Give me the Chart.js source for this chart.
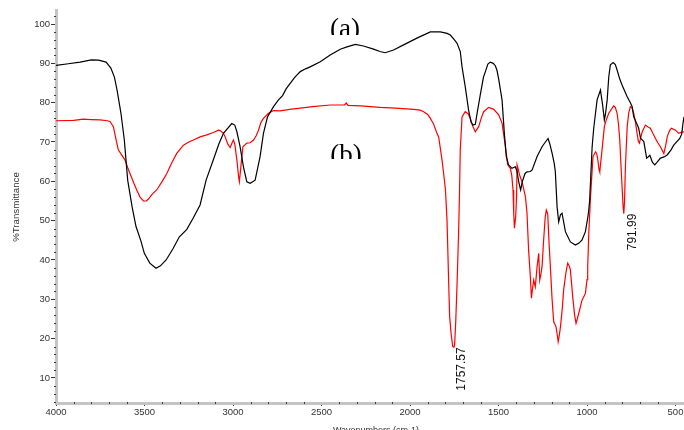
<!DOCTYPE html>
<html>
<head>
<meta charset="utf-8">
<script src="https://cdn.jsdelivr.net/npm/chart.js@4.4.1/dist/chart.umd.min.js"></script>
<style>
html,body{margin:0;padding:0;background:#fff;}
#wrap{width:684px;height:430px;}
</style>
</head>
<body>
<div id="wrap"><canvas id="c" width="684" height="430"></canvas></div>
<script>
// ---- data (wavenumber cm-1, %T) ----
const waveA = [4000,3930,3864,3800,3760,3717,3690,3670,3655,3633,3614,3595,3570,3548,3520,3501,3470,3435,3410,3378,3340,3303,3261,3227,3186,3152,3111,3080,3054,3007,2990,2978,2960,2941,2922,2903,2875,2847,2828,2805,2771,2743,2720,2700,2677,2650,2620,2590,2564,2507,2451,2394,2356,2309,2263,2206,2170,2140,2093,2036,1961,1885,1829,1790,1772,1750,1734,1716,1706,1688,1669,1655,1644,1631,1621,1603,1585,1574,1560,1546,1530,1518,1509,1499,1480,1467,1456,1443,1424,1405,1395,1386,1375,1365,1350,1339,1320,1310,1282,1254,1235,1220,1210,1197,1185,1179,1169,1160,1150,1141,1122,1094,1066,1045,1028,1009,995,990,985,978,971,962,943,924,912,902,896,886,877,868,852,840,830,815,802,773,755,745,736,720,708,698,679,663,655,645,630,617,605,585,565,547,525,510,476,465,457,452];
const transA = [89.5,89.9,90.3,90.9,90.8,90.3,88.8,86.5,83.2,77.3,70.5,60.3,53.5,48.5,44.8,41.7,39.2,37.9,38.5,40.0,42.8,45.9,47.8,50.5,54.0,60.3,65.5,69.5,72.2,74.7,74.3,72.6,68.8,63.7,59.9,59.5,60.3,66.3,72.2,76.4,79.0,80.7,81.8,83.5,84.9,86.5,87.9,88.6,89.1,90.4,92.1,93.6,94.2,94.8,94.4,93.6,93.0,92.7,93.4,94.7,96.4,98.0,98.0,97.6,97.2,96.0,95.1,93.0,89.1,84.1,78.1,75.0,74.3,74.5,77.3,82.0,86.5,87.9,89.8,90.3,90.0,89.4,88.3,86.0,80.7,72.2,66.3,64.2,63.3,63.7,62.5,59.9,57.8,60.0,62.0,62.4,62.5,62.9,66.3,68.8,70.0,70.9,69.5,67.1,64.5,62.5,53.5,49.7,51.5,51.9,47.2,44.6,43.8,44.3,45.1,47.2,51.0,52.7,55.2,62.0,68.8,73.5,80.7,83.2,79.5,75.6,77.0,80.7,86.6,89.6,90.2,89.7,88.3,86.0,84.5,81.5,80.0,79.0,76.4,74.8,73.5,71.0,70.1,65.9,66.2,66.6,64.8,64.2,64.8,65.9,66.2,66.7,68.0,69.2,70.9,72.0,75.0,76.4];

const waveB = [4000,3900,3846,3800,3751,3710,3695,3676,3660,3648,3630,3610,3595,3582,3560,3544,3525,3506,3490,3478,3455,3431,3400,3374,3345,3318,3280,3250,3224,3186,3148,3111,3082,3073,3054,3044,3030,3016,3005,2998,2990,2978,2968,2964,2955,2944,2922,2903,2884,2870,2856,2842,2828,2800,2770,2734,2680,2620,2550,2451,2370,2360,2350,2280,2168,2080,1980,1942,1923,1900,1885,1866,1848,1838,1819,1810,1800,1791,1786,1782,1776,1768,1759,1752,1748,1742,1734,1725,1720,1716,1706,1688,1672,1659,1645,1631,1612,1598,1584,1556,1527,1499,1480,1461,1448,1433,1425,1418,1414,1410,1403,1398,1395,1388,1381,1367,1348,1339,1330,1320,1314,1307,1301,1292,1282,1273,1267,1260,1254,1245,1236,1230,1222,1214,1207,1197,1188,1175,1168,1163,1156,1150,1140,1132,1120,1109,1100,1094,1079,1070,1062,1055,1047,1028,1009,1000,996,990,981,972,966,952,945,939,932,928,922,915,902,890,877,860,849,840,830,822,815,808,802,796,792,788,783,773,764,755,745,736,726,717,710,704,697,688,670,655,642,628,613,600,585,566,556,547,535,524,510,500,482,465,452];
const transB = [75.4,75.5,75.8,75.7,75.6,75.4,75.2,73.9,70.5,68.0,66.8,65.4,63.5,62.0,59.5,57.8,56.0,55.0,55.0,55.5,56.8,57.8,60.0,62.0,64.8,67.1,69.2,70.0,70.5,71.3,71.8,72.4,73.0,72.9,72.2,71.3,69.5,68.6,69.8,70.5,69.5,65.4,61.0,59.9,64.0,68.8,69.7,69.8,70.5,71.5,73.0,75.0,76.0,77.3,78.0,77.9,78.3,78.6,79.0,79.4,79.4,79.9,79.3,79.2,78.8,78.6,78.3,78.1,77.7,77.0,76.0,74.5,72.2,71.3,65.4,62.0,58.0,50.2,42.0,34.9,25.6,21.4,18.0,17.8,18.5,23.9,34.1,47.6,57.8,68.0,76.4,77.7,77.2,76.0,74.0,72.6,73.9,76.0,77.7,78.8,78.3,76.9,74.8,68.8,64.2,63.3,61.5,57.8,51.9,48.1,51.0,56.0,64.2,63.0,61.6,59.9,56.1,51.9,42.5,35.7,30.3,33.0,34.9,33.2,38.3,41.7,34.9,36.5,38.3,45.1,51.0,52.7,51.7,44.0,38.3,29.8,24.3,23.0,21.0,19.2,21.0,23.0,27.5,32.4,36.5,39.2,38.5,37.5,29.8,26.0,23.9,25.0,26.4,29.8,31.5,35.0,38.3,46.8,55.3,62.0,66.3,67.5,67.0,65.5,63.0,62.4,65.0,68.0,73.9,75.8,77.3,78.5,79.2,78.8,77.3,74.5,70.5,64.0,58.6,53.5,51.8,55.0,63.7,73.9,77.5,79.0,78.6,77.3,75.0,72.2,70.2,69.7,71.0,72.6,74.3,73.8,73.5,72.2,70.9,69.8,68.8,67.1,69.0,71.3,72.8,73.5,73.2,73.0,72.2,72.5,72.6];

const xTickLabels = [4000,3500,3000,2500,2000,1500,1000,500];
const yTickLabels = [10,20,30,40,50,60,70,80,90,100];
const peakLabels = [{wn:1757.57, t:17.8, text:'1757.57'}, {wn:791.99, t:51.8, text:'791.99'}];
const seriesNames = ['(a)','(b)'];

// ---- annotation plugin ----
const annot = {
  id:'annot',
  afterDraw(chart){
    const {ctx, scales:{x, y}, chartArea:ca} = chart;
    ctx.save();
    // minor tick marks on the axis lines
    ctx.fillStyle = '#3a3a3a';
    y.ticks.forEach(t => {
      if (t.value % 10 !== 0) {
        const py = Math.round(y.getPixelForValue(t.value));
        ctx.fillRect(ca.left - 2, py, 2, 1);
      }
    });
    x.ticks.forEach(t => {
      if (t.value % 500 !== 0) {
        const px = Math.round(x.getPixelForValue(t.value));
        ctx.fillRect(px, ca.bottom - 1, 1, 2);
      }
    });
    // peak labels (rotated)
    ctx.fillStyle = '#111';
    ctx.font = '12px "Liberation Sans", Arial, sans-serif';
    peakLabels.forEach(p => {
      const px = x.getPixelForValue(p.wn) + 8.5;
      const py = y.getPixelForValue(p.t);
      ctx.save();
      ctx.translate(px, py);
      ctx.rotate(-Math.PI/2);
      ctx.textAlign = 'right';
      ctx.textBaseline = 'middle';
      ctx.fillText(p.text, 0, 0);
      ctx.restore();
    });
    // series labels (a), (b)
    ctx.font = '27px "Liberation Serif", "Times New Roman", serif';
    ctx.textAlign = 'center';
    ctx.textBaseline = 'alphabetic';
    ctx.fillStyle = '#000';
    const lab = [{x:345, y:37, clip:35}, {x:346, y:163, clip:159}];
    seriesNames.forEach((s,i) => {
      ctx.save();
      ctx.beginPath();
      ctx.rect(0, 0, 684, lab[i].clip);
      ctx.clip();
      ctx.fillText(s, lab[i].x, lab[i].y);
      ctx.restore();
    });
    // axis titles
    ctx.fillStyle = '#333';
    ctx.font = '9.7px "Liberation Sans", Arial, sans-serif';
    ctx.save();
    ctx.translate(16, 207);
    ctx.rotate(-Math.PI/2);
    ctx.textAlign = 'center';
    ctx.textBaseline = 'middle';
    ctx.fillText('%Transmittance', 0, 0);
    ctx.restore();
    ctx.font = '9px "Liberation Sans", Arial, sans-serif';
    ctx.textAlign = 'center';
    ctx.textBaseline = 'alphabetic';
    ctx.fillText('Wavenumbers (cm-1)', 376, 433);
    ctx.restore();
  }
};

new Chart(document.getElementById('c'), {
  type: 'line',
  data: {
    datasets: [
      {label: seriesNames[0], data: waveA.map((w,i)=>({x:w, y:transA[i]})), borderColor:'#000000', borderWidth:1.2, pointRadius:0, tension:0, fill:false},
      {label: seriesNames[1], data: waveB.map((w,i)=>({x:w, y:transB[i]})), borderColor:'#ff0000', borderWidth:1.2, pointRadius:0, tension:0, fill:false}
    ]
  },
  options: {
    responsive:false,
    animation:false,
    events:[],
    layout:{padding:{top:10, right:0, left:0, bottom:0}},
    plugins:{legend:{display:false}, tooltip:{enabled:false}, title:{display:false}},
    scales:{
      x:{
        type:'linear', reverse:true, min:452, max:4000,
        ticks:{stepSize:100, autoSkip:false, includeBounds:false, maxRotation:0, minRotation:0,
          callback:(v)=> xTickLabels.includes(v) ? String(v) : '',
          font:{family:'"Liberation Sans", Arial, sans-serif', size:9.5}, color:'#333', padding:1},
        grid:{drawOnChartArea:false, drawTicks:true, tickLength:3,
          tickColor:(c)=> (c.tick && c.tick.value % 500 === 0) ? '#333' : 'rgba(0,0,0,0)', tickWidth:1},
        border:{display:true, color:'#c4c4c4', width:3},
        afterFit:(s)=>{ s.height = 27; s.paddingLeft = 0; s.paddingRight = 0; }
      },
      y:{
        type:'linear', min:3.64, max:103.56,
        ticks:{stepSize:2, autoSkip:false, includeBounds:false,
          callback:(v)=> yTickLabels.includes(v) ? String(v) : '',
          font:{family:'"Liberation Sans", Arial, sans-serif', size:9.5}, color:'#333', padding:1},
        grid:{drawOnChartArea:false, drawTicks:true, tickLength:5,
          tickColor:(c)=> (c.tick && c.tick.value % 10 === 0) ? '#333' : 'rgba(0,0,0,0)', tickWidth:1},
        border:{display:true, color:'#c4c4c4', width:3},
        afterFit:(s)=>{ s.width = 56; s.paddingTop = 0; s.paddingBottom = 0; }
      }
    }
  },
  plugins:[annot]
});
</script>
</body>
</html>
